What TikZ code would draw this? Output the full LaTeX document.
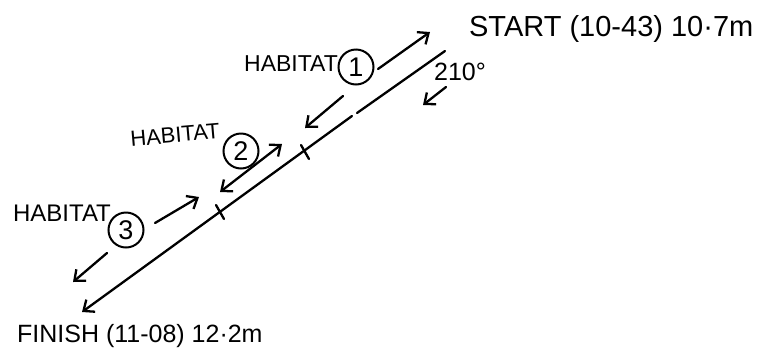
\documentclass[tikz,border=0pt]{standalone}
\usepackage{fontspec}
\setmainfont{Liberation Sans}
\usetikzlibrary{arrows.meta}
\begin{document}
\begin{tikzpicture}[x=1pt,y=-1pt,>={Straight Barb[length=9pt,width=15pt]},line width=2.3pt,line cap=round,
  every node/.style={font=\fontsize{22}{22}\selectfont,inner sep=0pt},
  num/.style={draw,circle,line width=2pt,minimum size=35pt,font=\fontsize{27}{27}\selectfont}]
  \useasboundingbox (0,0) rectangle (768,357);
  % labels at both ends
  \node[anchor=west,font=\fontsize{29}{29}\selectfont] (st) at (468,29) {START (10-43) 10·7m};
  \node[anchor=west,font=\fontsize{25}{25}\selectfont] (fi) at (16,336) {FINISH (11-08) 12·2m};
  \node[font=\fontsize{25}{25}\selectfont] (dg) at (460,72) {210°};
  % habitats
  \node[font=\fontsize{23}{23}\selectfont] (h1) at (291,64) {HABITAT};
  \node[num] (c1) at (356,67) {1};
  \node[rotate=5] (h2) at (175,135) {HABITAT};
  \node[num] (c2) at (241,151) {2};
  \node[font=\fontsize{24}{24}\selectfont] (h3) at (62,213) {HABITAT};
  \node[num] (c3) at (126,230) {3};
  % transect line
  \coordinate (top) at (445,51);
  \coordinate (gapa) at (357,113);
  \coordinate (gapb) at (352,116);
  \coordinate (bot) at (82,312);
  \draw (top) -- (gapa);
  \draw[->] (gapb) -- (bot);
  \coordinate (t1) at (305,152);
  \coordinate (t2) at (220,212);
  \draw ([shift={(-4,-7)}]t1) -- ([shift={(4,7)}]t1);
  \draw ([shift={(-4,-7)}]t2) -- ([shift={(4,7)}]t2);
  % direction arrows
  \coordinate (d0) at (446,87);
  \coordinate (d1) at (423,105);
  \draw[->] (d0) -- (d1);
  \coordinate (a1) at (378,69);
  \coordinate (b1) at (430,32);
  \coordinate (a2) at (343,96);
  \coordinate (b2) at (305,128);
  \draw[->] (a1) -- (b1);
  \draw[->] (a2) -- (b2);
  \coordinate (a3) at (220,192);
  \coordinate (b3) at (282,144);
  \draw[<->] (a3) -- (b3);
  \coordinate (a4) at (155,223);
  \coordinate (b4) at (199,197);
  \coordinate (a5) at (107,253);
  \coordinate (b5) at (73,282);
  \draw[->] (a4) -- (b4);
  \draw[->] (a5) -- (b5);
\end{tikzpicture}
\end{document}
